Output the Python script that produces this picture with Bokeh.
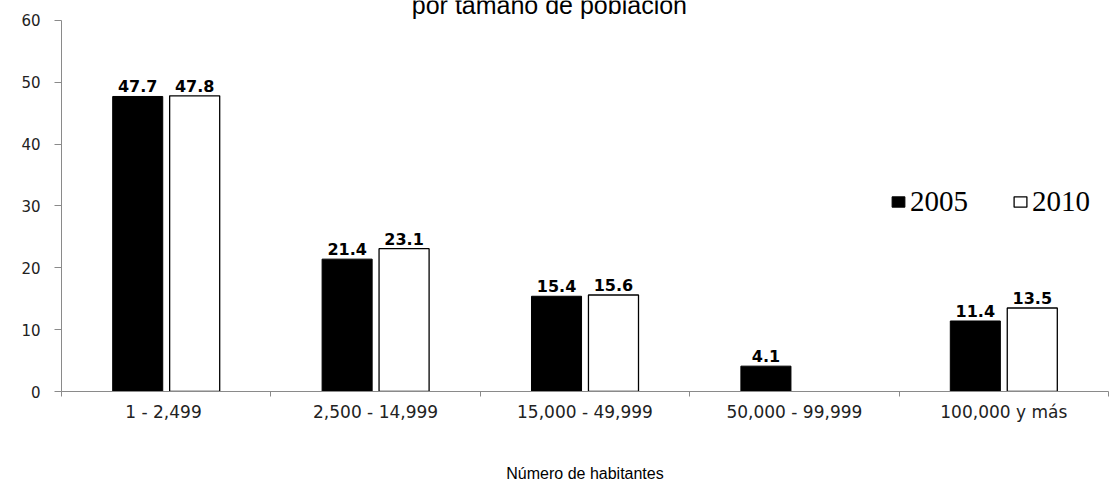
import numpy as np
from bokeh.plotting import figure
from bokeh.models import (ColumnDataSource, FixedTicker, Legend, LegendItem, Label,
                          Range1d)
from bokeh.transform import dodge
from bokeh.core.properties import value
from bokeh.embed import file_html
from bokeh.resources import INLINE

categories = ["1  - 2,499", "2,500 - 14,999", "15,000 - 49,999", "50,000 - 99,999", "100,000 y más"]
values_2005 = [47.7, 21.4, 15.4, 4.1, 11.4]
values_2010 = [47.8, 23.1, 15.6, None, 13.5]
series_names = ["2005", "2010"]
y_ticks = [0, 10, 20, 30, 40, 50, 60]
title_text = "por tamaño de población"
x_title = "Número de habitantes"

n = len(categories)
centers = list(range(1, n + 1))

def make_source(vals):
    xs, ys, labels = [], [], []
    for c, v in zip(centers, vals):
        if v is None:
            continue
        xs.append(c)
        ys.append(v)
        labels.append(f"{v:.1f}")
    return ColumnDataSource(dict(x=xs, top=ys, label=labels))

src05 = make_source(values_2005)
src10 = make_source(values_2010)

W, H = 1117, 484
y_max = 60
# frame reaches the top of the canvas; axis line stops at 60 (20px below the top)
y_top = y_max * 393 / 373
p = figure(width=W, height=H, output_backend="svg", toolbar_location=None,
           x_range=Range1d(0.5, n + 0.5), y_range=Range1d(0, y_top),
           min_border_left=61, min_border_right=9, min_border_top=0, min_border_bottom=91)
p.outline_line_color = None
p.grid.visible = False
p.background_fill_color = "white"
p.border_fill_color = "white"

bw = 0.239
off = 0.136
r05 = p.vbar(x=dodge("x", -off, range=p.x_range), top="top", width=bw, source=src05,
             fill_color="black", line_color="black", line_width=1)
r10 = p.vbar(x=dodge("x", off, range=p.x_range), top="top", width=bw, source=src10,
             fill_color="white", line_color="black", line_width=1.3)

for src, o in ((src05, -off), (src10, off)):
    p.text(x=dodge("x", o, range=p.x_range), y="top", text="label", source=src,
           text_align="center", text_baseline="bottom", y_offset=-4,
           text_font=value("DejaVu Sans"), text_font_style="bold",
           text_font_size="16px", text_color="black")

# y axis
ya = p.yaxis[0]
ya.ticker = FixedTicker(ticks=y_ticks)
ya.bounds = (0, y_max)
ya.axis_line_color = "#8a8a8a"
ya.major_tick_line_color = "#8a8a8a"
ya.major_tick_out = 7
ya.major_tick_in = 0
ya.minor_tick_line_color = None
ya.major_label_text_font = "DejaVu Sans"
ya.major_label_text_font_size = "15px"
ya.major_label_text_color = "#222222"
ya.major_label_standoff = 14

# x axis: labels at category centres, small ticks at category boundaries
xa = p.xaxis[0]
xa.ticker = FixedTicker(ticks=centers, minor_ticks=[c - 0.5 for c in centers] + [n + 0.5])
xa.major_label_overrides = {c: lab for c, lab in zip(centers, categories)}
xa.axis_line_color = "#8a8a8a"
xa.major_tick_line_color = None
xa.major_tick_out = 0
xa.major_tick_in = 0
xa.minor_tick_line_color = "#8a8a8a"
xa.minor_tick_out = 5
xa.minor_tick_in = 0
xa.major_label_text_font = "DejaVu Sans"
xa.major_label_text_font_size = "17px"
xa.major_label_text_color = "#222222"
xa.major_label_standoff = 5
xa.axis_label = x_title
xa.axis_label_text_font = "Liberation Sans"
xa.axis_label_text_font_size = "16px"
xa.axis_label_text_font_style = "normal"
xa.axis_label_text_color = "black"
xa.axis_label_standoff = 40

legend = Legend(items=[LegendItem(label=series_names[0], renderers=[r05]),
                       LegendItem(label=series_names[1], renderers=[r10])],
                orientation="horizontal", location=(829, 173),
                border_line_color=None, background_fill_alpha=0,
                padding=0, margin=0, spacing=44,
                glyph_width=16, glyph_height=13, label_standoff=4,
                label_height=24,
                label_text_font="Liberation Serif", label_text_font_size="29px",
                label_text_color="black")
p.add_layout(legend, "center")

title = Label(x=2.83, y=y_top - 5 * y_top / 393, text=title_text, text_align="center",
              text_baseline="alphabetic", text_font="Liberation Sans",
              text_font_size="25px", text_color="black")
p.add_layout(title)

open("out.html", "w").write(file_html(p, INLINE))
